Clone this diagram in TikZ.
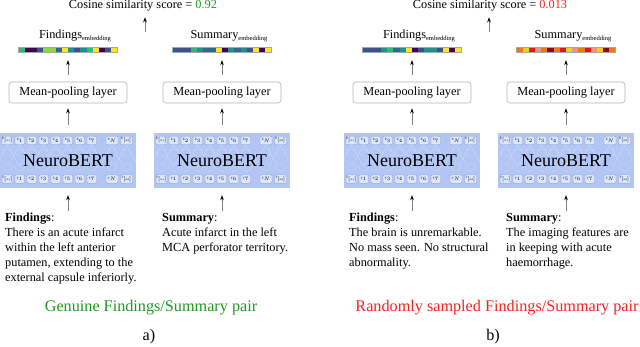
\documentclass[tikz,border=0pt]{standalone}
\usepackage{fontspec}
\setmainfont{Liberation Serif}
\usetikzlibrary{arrows.meta,positioning,calc}
\definecolor{vpurple}{HTML}{440154}
\definecolor{vnavy}{HTML}{3B528B}
\definecolor{vblue}{HTML}{31688E}
\definecolor{vteal}{HTML}{21918C}
\definecolor{vgreen}{HTML}{35B779}
\definecolor{vlime}{HTML}{8FD744}
\definecolor{vyellow}{HTML}{FDE725}
\definecolor{hdark}{HTML}{8B0A0A}
\definecolor{hred}{HTML}{E8141C}
\definecolor{horange}{HTML}{F07818}
\definecolor{hyellow}{HTML}{F5D020}
\definecolor{hsalmon}{HTML}{EE9580}
\definecolor{bertblue}{HTML}{B2C6F6}
\definecolor{tokfill}{HTML}{DCE6FB}
\definecolor{tokline}{HTML}{8C9CC2}
\definecolor{poolgray}{HTML}{B4B4B4}
\definecolor{goodgreen}{HTML}{1E9A1E}
\definecolor{badred}{HTML}{FF1E1E}
\newcommand\txtfont{\fontsize{12.3}{15}\selectfont}
\newcommand\embtag{\raisebox{-2.2pt}{\fontsize{6.5}{7}\selectfont embedding}}
\tikzset{
  arr/.style={-{Stealth[length=5pt, width=3.6pt, color=black]}, line width=0.7pt, draw=black!50},
  pool/.style={draw=poolgray, fill=white, rounded corners=3pt, line width=0.6pt, minimum width=118pt, minimum height=21pt, inner sep=0pt, font=\txtfont},
  bert/.style={fill=bertblue, minimum width=136pt, minimum height=55pt, inner sep=0pt},
  tok/.style={draw=tokline, fill=tokfill, rounded corners=1.2pt, line width=0.3pt, minimum height=8.5pt, inner sep=0pt, font=\fontsize{3.2}{3.5}\selectfont},
  net/.style={draw=white, opacity=0.3, line width=0.3pt},
  bar/.style={draw=black!35, line width=0.4pt, minimum width=99pt, minimum height=5pt, inner sep=0pt},
  emb/.style={font=\txtfont, inner sep=0pt},
  desc/.style={font=\txtfont, align=left, inner sep=0pt, anchor=north west},
  big/.style={font=\fontsize{16.2}{18}\selectfont, inner sep=0pt},
}

\begin{document}
\begin{tikzpicture}[x=1pt, y=-1pt]
  \useasboundingbox (0,0) rectangle (640,347);
  % one column per text: NeuroBERT -> pooling -> embedding
  \foreach \c/\x/\lx/\nm/\desc/\cells in {
    af/68/5/Findings/{\textbf{Findings}:\\There is an acute infarct\\within the left anterior\\putamen, extending to the\\external capsule inferiorly.}/{vgreen,vpurple,vpurple,vnavy,vlime,vlime,vblue,vyellow,vteal,vnavy,vteal,vgreen,vyellow,vpurple,vnavy,vyellow},
    as/222/162/Summary/{\textbf{Summary}:\\Acute infarct in the left\\MCA perforator territory.}/{vnavy,vnavy,vnavy,vgreen,vteal,vblue,vblue,vyellow,vpurple,vteal,vblue,vteal,vnavy,vyellow,vpurple,vyellow},
    bf/412/349/Findings/{\textbf{Findings}:\\The brain is unremarkable.\\No mass seen. No structural\\abnormality.}/{vnavy,vnavy,vnavy,vteal,vgreen,vblue,vteal,vyellow,vpurple,vnavy,vteal,vteal,vnavy,vyellow,vpurple,vyellow},
    bs/566/506/Summary/{\textbf{Summary}:\\The imaging features are\\in keeping with acute\\haemorrhage.}/{horange,hyellow,hred,hsalmon,horange,hdark,horange,hred,hyellow,hsalmon,horange,hred,hsalmon,hyellow,hdark,horange}}
  {
    \node[bert] (\c-bert) at (\x,160.5) {};
    \foreach \ox in {-60.5,-48.25,-36.25,-24.25,-12.25,-0.25,11.75,23.75,44,58.5} {
      \draw[net] (\x+\ox,152.5) ellipse [x radius=5pt, y radius=3.8pt];
      \draw[net] (\x+\ox,167) ellipse [x radius=5pt, y radius=3.8pt];
      \draw[net] (\x+\ox,145) -- (\x+\ox+12,167) (\x+\ox,145) -- (\x+\ox-12,167);
    }
    \foreach \ox/\ow/\ol in {-60.5/11/{\mathrm{[CLS]}}, -48.25/9.5/1, -36.25/9.5/2, -24.25/9.5/3, -12.25/9.5/4, -0.25/9.5/5, 11.75/9.5/6, 23.75/9.5/7, 44/12/{N}, 58.5/12/{\mathrm{[SEP]}}} {
      \node[tok, minimum width=\ow pt] at (\x+\ox,140.5) {E$_{\ol}$};
      \node[tok, minimum width=\ow pt] at (\x+\ox,179) {T$_{\ol}$};
    }
    \node[font=\fontsize{4}{4}\selectfont, text=black!50] at (\x+34,140.5) {-};
    \node[font=\fontsize{4}{4}\selectfont, text=black!50] at (\x+34,179) {-};
    \node[font=\fontsize{18}{20}\selectfont] at (\c-bert) {NeuroBERT};
    \node[pool] (\c-pool) at (\x,92.5) {Mean-pooling layer};
    \foreach \col [count=\i] in \cells
      \fill[\col] ({\x-49.5+(\i-1)*6.1875},47) rectangle ++(6.1875,5);
    \node[bar] (\c-bar) at (\x,49.5) {};
    \node[emb] (\c-emb) at (\x+7,36) {\nm\embtag};
    \node[desc] (\c-txt) at (\lx,213) {\desc};
    \draw[arr, shorten <=2pt, shorten >=7pt] (\c-bert.south |- \c-txt.north) -- (\c-bert.south);
    \draw[arr, shorten <=8pt, shorten >=5pt] (\c-bert.north) -- (\c-pool.south);
    \draw[arr, shorten <=7pt, shorten >=8pt] (\c-pool.north) -- (\c-bar.south);
  }
  % scores on top
  \node[emb] (cosa) at (143,6) {Cosine similarity score = \textcolor{goodgreen}{0.92}};
  \node[emb] (cosb) at (490,6) {Cosine similarity score = \textcolor{badred}{0.013}};
  \coordinate (amid) at ($(af-bar.north)!0.5!(as-bar.north)$);
  \coordinate (bmid) at ($(bf-bar.north)!0.5!(bs-bar.north)$);
  \draw[arr, shorten <=15pt, shorten >=5.5pt] (amid) -- (amid |- cosa.south);
  \draw[arr, shorten <=15pt, shorten >=5.5pt] (bmid) -- (bmid |- cosb.south);
  % panel captions
  \node[big, text=goodgreen] (pairA) at (151,308) {Genuine Findings/Summary pair};
  \node[big, text=badred] (pairB) at (497,308) {Randomly sampled Findings/Summary pair};
  \node[big] (capA) at (149,337) {a)};
  \node[big] (capB) at (493,337) {b)};
\end{tikzpicture}
\end{document}
